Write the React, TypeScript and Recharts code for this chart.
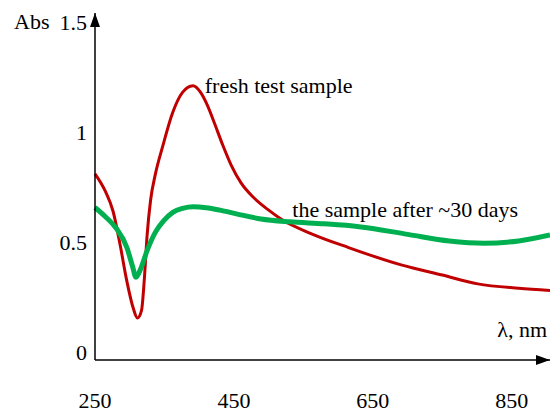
import { LineChart, Line, XAxis, YAxis, ReferenceDot } from "recharts";

// fresh test sample
const freshNm = [250, 265, 276, 286, 296, 305, 311, 317, 321, 325, 330, 337, 347, 362, 376, 391, 402, 412, 422, 434, 446, 460, 479, 500, 520, 560, 615, 692, 750, 801, 860, 905];
const freshAbs = [0.81, 0.73, 0.64, 0.49, 0.32, 0.2, 0.155, 0.19, 0.33, 0.53, 0.69, 0.81, 0.93, 1.09, 1.18, 1.21, 1.18, 1.12, 1.04, 0.94, 0.85, 0.77, 0.7, 0.645, 0.6, 0.54, 0.475, 0.395, 0.35, 0.31, 0.29, 0.28];

// the sample after ~30 days
const agedNm = [250, 265, 280, 296, 304, 309, 316, 325, 337, 349, 362, 376, 392, 410, 430, 455, 489, 530, 580, 630, 700, 760, 810, 860, 905];
const agedAbs = [0.657, 0.615, 0.565, 0.474, 0.39, 0.34, 0.38, 0.461, 0.545, 0.597, 0.635, 0.653, 0.66, 0.656, 0.645, 0.627, 0.605, 0.592, 0.583, 0.57, 0.535, 0.505, 0.495, 0.505, 0.532];

const xTicks = [250, 450, 650, 850];
const yTicks = [0, 0.5, 1, 1.5];

const freshData = freshNm.map((nm, i) => ({ nm, abs: freshAbs[i] }));
const agedData = agedNm.map((nm, i) => ({ nm, abs: agedAbs[i] }));

const FONT = "'Liberation Serif', 'DejaVu Serif', 'Times New Roman', serif";
const textStyle = { fontFamily: FONT, fontSize: 22 };

const YArrow = (props: any) => {
    const { x, y, width } = props.viewBox;
    const ax = x + width;
    return (
        <g>
            <text x={14} y={29} style={textStyle} fontFamily={FONT} fill="#000">Abs</text>
            <polygon points={`${ax},${y} ${ax - 5},${y + 14} ${ax + 5},${y + 14}`} fill="#000" />
        </g>
    );
};

const XArrow = (props: any) => {
    const { x, y, width } = props.viewBox;
    const ax = x + width;
    return (
        <g>
            <text x={547} y={337} textAnchor="end" style={textStyle} fontFamily={FONT} fill="#000">λ, nm</text>
            <polygon points={`${ax},${y} ${ax - 14},${y - 5} ${ax - 14},${y + 5}`} fill="#000" />
        </g>
    );
};

const note = (text: string) => (props: any) => (
    <text x={props.viewBox.x} y={props.viewBox.y} style={textStyle} fontFamily={FONT} fill="#000">
        {text}
    </text>
);

export default function App() {
    return (
        <div style={{ width: 550, height: 412, fontFamily: FONT }}>
            <style>{"body{margin:0}"}</style>
            <LineChart width={550} height={412} margin={{ top: 13, right: 0, bottom: 0, left: 0 }} style={{ fontFamily: FONT }}>
                <XAxis
                    dataKey="nm"
                    type="number"
                    domain={[250, 905]}
                    ticks={xTicks}
                    height={52}
                    tickLine={false}
                    tickSize={0}
                    tickMargin={32}
                    axisLine={{ stroke: "#000", strokeWidth: 1.5 }}
                    tick={{ fill: "#000", fontSize: 22, fontFamily: FONT }}
                    label={XArrow}
                />
                <YAxis
                    type="number"
                    domain={[-0.036, 1.541]}
                    ticks={yTicks}
                    width={95}
                    tickLine={false}
                    tickSize={0}
                    tickMargin={8}
                    axisLine={{ stroke: "#000", strokeWidth: 1.5 }}
                    tick={{ fill: "#000", fontSize: 22, fontFamily: FONT }}
                    label={YArrow}
                />
                <Line
                    data={freshData}
                    dataKey="abs"
                    type="monotone"
                    stroke="#C00000"
                    strokeWidth={3}
                    dot={false}
                    isAnimationActive={false}
                />
                <Line
                    data={agedData}
                    dataKey="abs"
                    type="monotone"
                    stroke="#00B050"
                    strokeWidth={5}
                    dot={false}
                    isAnimationActive={false}
                />
                <ReferenceDot x={408} y={1.177} r={0} stroke="none" label={note("fresh test sample")} />
                <ReferenceDot x={534} y={0.614} r={0} stroke="none" label={note("the sample after ~30 days")} />
            </LineChart>
        </div>
    );
}
